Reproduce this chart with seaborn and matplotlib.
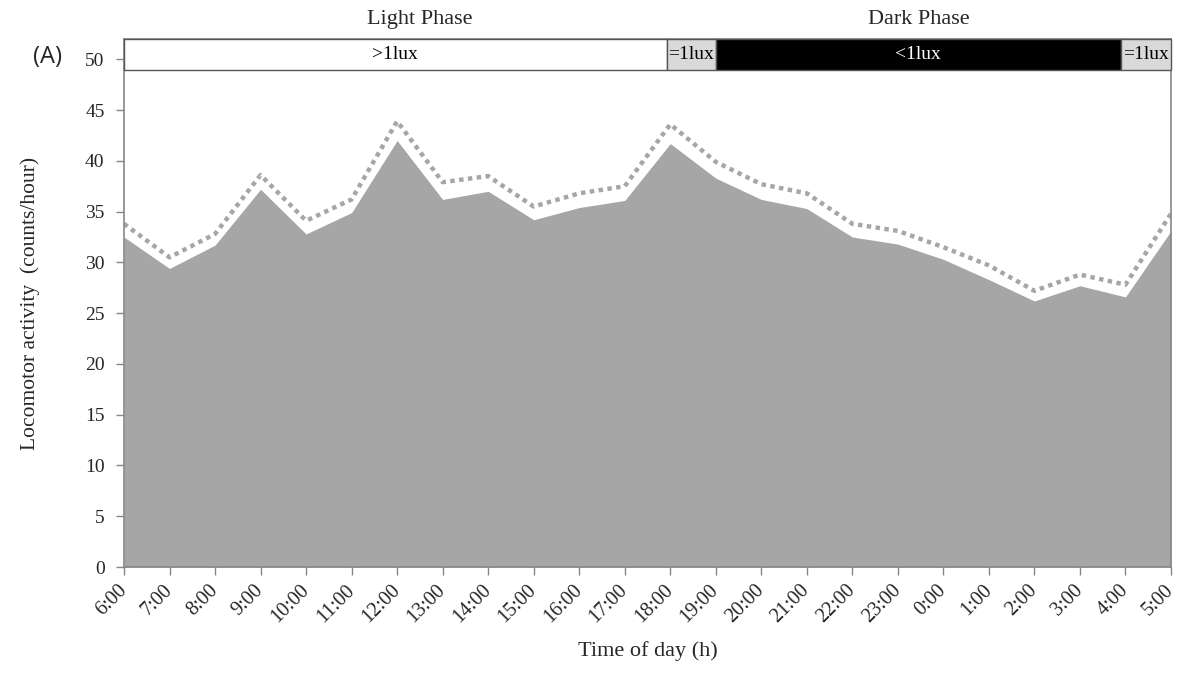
import matplotlib
matplotlib.use("Agg")
import matplotlib.pyplot as plt
import seaborn as sns
import numpy as np
import pandas as pd
from matplotlib.patches import Rectangle

times = ["6:00", "7:00", "8:00", "9:00", "10:00", "11:00", "12:00", "13:00", "14:00",
         "15:00", "16:00", "17:00", "18:00", "19:00", "20:00", "21:00", "22:00", "23:00",
         "0:00", "1:00", "2:00", "3:00", "4:00", "5:00"]
activity = [32.5, 29.4, 31.7, 37.2, 32.8, 34.9, 42.0, 36.2, 37.0, 34.2, 35.4, 36.1,
            41.7, 38.3, 36.2, 35.3, 32.5, 31.8, 30.3, 28.3, 26.2, 27.7, 26.6, 33.1]
upper = [33.8, 30.5, 32.8, 38.6, 34.1, 36.2, 43.9, 37.9, 38.5, 35.5, 36.8, 37.5,
         43.6, 39.9, 37.7, 36.8, 33.8, 33.1, 31.5, 29.7, 27.2, 28.8, 27.8, 34.8]

band_labels = [">1lux", "=1lux", "<1lux", "=1lux"]
band_starts = [0.0, 11.92, 13.0, 21.9]
band_ends = [11.92, 13.0, 21.9, 23.0]
band_colors = ["white", "#d9d9d9", "black", "#d9d9d9"]
band_text_colors = ["black", "black", "white", "black"]
phase_labels = ["Light Phase", "Dark Phase"]
phase_spans = [(0.0, 13.0), (11.92, 23.0)]

sns.set_theme(style="white")
plt.rcParams["font.family"] = ["Liberation Serif", "DejaVu Serif"]

df = pd.DataFrame({"pos": np.arange(len(times)), "time": times,
                   "activity": activity, "upper": upper})

fig = plt.figure(figsize=(11.79, 6.77), dpi=100)
ax = fig.add_axes([124/1179, 1-567/677, (1171-124)/1179, (567-39)/677])

ax.fill_between(df["pos"], df["activity"], 0, color="#a6a6a6", linewidth=0, zorder=1)
sns.lineplot(data=df, x="pos", y="upper", ax=ax, color="#a6a6a6", linewidth=3.2,
             linestyle=(0, (1, 1)), zorder=2, dash_capstyle="butt")

ax.set_xlim(0, len(times) - 1)
ax.set_ylim(0, 52)
ax.set_yticks(np.arange(0, 51, 5))
ax.set_xticks(df["pos"])
ax.set_xticklabels(times, rotation=45, ha="right", va="center",
                   rotation_mode="anchor", fontsize=14.5)
ax.tick_params(axis="y", labelsize=14, direction="out", length=6, width=1,
               color="#868686", left=True, pad=8)
ax.tick_params(axis="x", direction="out", length=6, width=1, color="#868686",
               bottom=True, pad=9)
for s in ax.spines.values():
    s.set_color("#868686")
    s.set_linewidth(1.2)

ax.set_xlabel("Time of day (h)", fontsize=16, labelpad=10)
ax.set_ylabel("Locomotor activity  (counts/hour)", fontsize=15.5, labelpad=32)

band_bottom, band_top = 48.9, 52.0
for lab, x0, x1, fc, tc in zip(band_labels, band_starts, band_ends, band_colors, band_text_colors):
    ax.add_patch(Rectangle((x0, band_bottom), x1 - x0, band_top - band_bottom,
                           facecolor=fc, edgecolor="#555555", linewidth=1, zorder=3,
                           clip_on=False))
    ax.text((x0 + x1) / 2, (band_bottom + band_top) / 2, lab, ha="center", va="center",
            color=tc, fontsize=14, zorder=4)

for lab, (x0, x1) in zip(phase_labels, phase_spans):
    ax.text((x0 + x1) / 2, 53.9, lab, ha="center", va="center", fontsize=16,
            clip_on=False)

fig.text(47/1179, 1 - 57/677, "(A)", fontsize=17, ha="center", va="center",
         family=["Open Sans", "DejaVu Sans"])

fig.savefig("out.png", dpi=100)
